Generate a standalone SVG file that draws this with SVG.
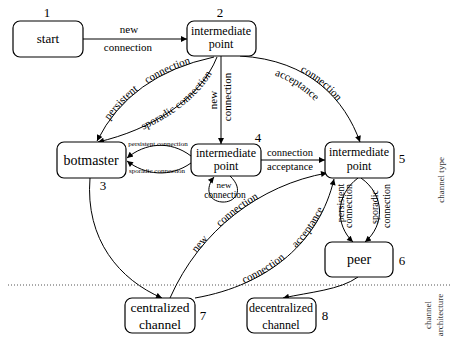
<svg xmlns="http://www.w3.org/2000/svg" width="450" height="340" viewBox="0 0 450 340" font-family="'Times New Roman', 'Liberation Serif', 'DejaVu Serif', serif">
<style>
text, textPath, tspan{font-family:'Times New Roman','Liberation Serif','DejaVu Serif',serif;fill:#000}
.node rect{fill:#fff;stroke:#000;stroke-width:1.2}
.nt{font-size:12px;text-anchor:middle}
.nb{font-size:14px;text-anchor:middle}
.num{font-size:13px;text-anchor:middle}
.lbl{font-size:11px;text-anchor:middle}
.sm{font-size:7px;text-anchor:middle}
.edge{fill:none;stroke:#000;stroke-width:1;marker-end:url(#ah)}
.side{font-size:9px;text-anchor:middle;fill:#333}
</style>
<defs>
<marker id="ah" viewBox="0 0 10 10" refX="10" refY="5" markerWidth="8" markerHeight="6" markerUnits="userSpaceOnUse" orient="auto">
<path d="M0,0 L10,5 L0,10 Z" fill="#000"/>
</marker>
<path id="p23a" d="M 97 141 Q 130 75 214 57"/>
<path id="p23b" d="M 97 142 C 150 130 200 100 217 57"/>
<path id="p25" d="M 240 56 C 310 60 345 100 360 142"/>
<path id="p25b" d="M 233 67 C 296 71 328 105 344 150"/>
<path id="p75a" d="M 170 298 C 200 230 260 185 327 173"/>
<path id="p75b" d="M 195 298 C 270 285 320 240 334 179"/>
</defs>

<line x1="8" y1="285" x2="450" y2="285" stroke="#555" stroke-width="1" stroke-dasharray="1,2"/>

<g id="connectors">
<path class="edge" d="M 83 39 L 187 39"/>
<text class="lbl" x="129" y="33">new</text>
<text class="lbl" x="128" y="51">connection</text>

<path class="edge" d="M 214 57 Q 130 75 97 141"/>
<text class="lbl" style="word-spacing:8px"><textPath href="#p23a" startOffset="50%">persistent connection</textPath></text>
<path class="edge" d="M 217 57 C 200 100 150 130 98 142"/>
<text class="lbl" dy="3"><textPath href="#p23b" startOffset="60%">sporadic connection</textPath></text>

<path class="edge" d="M 221 56 L 221 144"/>
<text class="lbl" transform="translate(217,100) rotate(-90)">new</text>
<text class="lbl" transform="translate(231,97) rotate(-90)">connection</text>

<path class="edge" d="M 240 56 C 310 60 345 100 360 142"/>
<text class="lbl"><textPath href="#p25" startOffset="55%">connection</textPath></text>
<text class="lbl"><textPath href="#p25b" startOffset="45%">acceptance</textPath></text>

<path class="edge" d="M 191 156 C 170 140 145 143 127 158"/>
<path class="edge" d="M 191 163 C 170 178 145 175 127 161"/>
<text class="sm" x="158" y="146">persistent connection</text>
<text class="sm" x="157" y="173">sporadic connection</text>

<path class="edge" d="M 230 176 C 245 190 235 203 222 202 C 208 201 205 188 214 177"/>
<text class="lbl" x="224" y="188" style="font-size:9px">new</text>
<text class="lbl" x="225" y="198" style="font-size:9.5px">connection</text>

<path class="edge" d="M 261 160 L 325 160"/>
<text class="lbl" x="290" y="156" style="font-size:10.5px">connection</text>
<text class="lbl" x="290" y="170" style="font-size:10.5px">acceptance</text>

<path class="edge" d="M 90 178 C 85 240 120 280 162 298"/>

<path class="edge" d="M 170 298 C 200 230 260 185 327 173"/>
<text class="lbl" style="word-spacing:14px"><textPath href="#p75a" startOffset="45%">new connection</textPath></text>
<path class="edge" d="M 195 298 C 270 285 320 240 334 179"/>
<text class="lbl" style="word-spacing:12px"><textPath href="#p75b" startOffset="55%">connection acceptance</textPath></text>

<path class="edge" d="M 358 178 C 335 195 335 225 353 242"/>
<path class="edge" d="M 361 178 C 385 195 385 225 365 242"/>
<text class="lbl" style="font-size:10px" transform="translate(344,203) rotate(-90)">persistent</text>
<text class="lbl" style="font-size:10px" transform="translate(352,206) rotate(-90)">connection</text>
<text class="lbl" style="font-size:10px" transform="translate(378,207) rotate(-90)">sporadic</text>
<text class="lbl" style="font-size:10px" transform="translate(390,206) rotate(-90)">connection</text>

<path class="edge" d="M 358 277 C 340 290 310 292 283 298"/>
</g>

<g id="n1" class="node">
<rect x="13" y="21" width="70" height="36" rx="7"/>
<text class="nb" style="font-size:13px" x="48" y="43">start</text>
<text class="num" x="47" y="17">1</text>
</g>
<g id="n2" class="node">
<rect x="187" y="21" width="69" height="35" rx="7"/>
<text class="nt" x="221" y="35">intermediate</text>
<text class="nt" x="221" y="48">point</text>
<text class="num" x="220" y="17">2</text>
</g>
<g id="n3" class="node">
<rect x="57" y="142" width="69" height="36" rx="7"/>
<text class="nb" x="91" y="165">botmaster</text>
<text class="num" x="103" y="190">3</text>
</g>
<g id="n4" class="node">
<rect x="191" y="144" width="70" height="32" rx="7"/>
<text class="nt" x="226" y="157">intermediate</text>
<text class="nt" x="226" y="170">point</text>
<text class="num" x="258" y="142">4</text>
</g>
<g id="n5" class="node">
<rect x="325" y="142" width="69" height="36" rx="7"/>
<text class="nt" x="359" y="156">intermediate</text>
<text class="nt" x="359" y="170">point</text>
<text class="num" x="402" y="163">5</text>
</g>
<g id="n6" class="node">
<rect x="325" y="242" width="68" height="35" rx="7"/>
<text class="nb" x="359" y="264">peer</text>
<text class="num" x="402" y="265">6</text>
</g>
<g id="n7" class="node">
<rect x="125" y="298" width="70" height="35" rx="7"/>
<text class="nb" style="font-size:13.5px" x="160" y="312">centralized</text>
<text class="nb" style="font-size:13.5px" x="160" y="329">channel</text>
<text class="num" x="203" y="320">7</text>
</g>
<g id="n8" class="node">
<rect x="247" y="298" width="69" height="35" rx="7"/>
<text class="nt" x="281" y="312">decentralized</text>
<text class="nt" x="281" y="329">channel</text>
<text class="num" x="325" y="320">8</text>
</g>

<text class="side" transform="translate(444,180) rotate(-90)">channel type</text>
<text class="side" transform="translate(431,315) rotate(-90)">channel</text>
<text class="side" transform="translate(443,315) rotate(-90)">architecture</text>
</svg>
